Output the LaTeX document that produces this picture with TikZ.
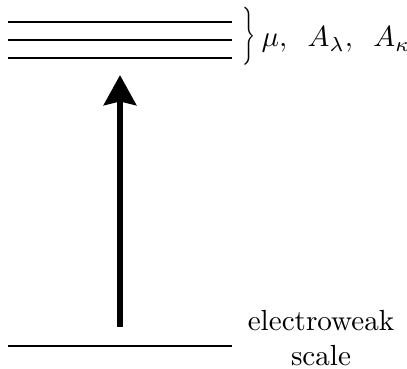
\documentclass[tikz,border=0pt]{standalone}
\usepackage{graphicx}
\usetikzlibrary{arrows.meta}
\begin{document}
\begin{tikzpicture}[x=0.3436pt,y=-0.3436pt,
  level/.style={line width=0.7pt},
  bigarrow/.style={line width=2.4pt,-{Stealth[length=10.3pt,width=11pt,inset=1.2pt]}},
  lbl/.style={inner sep=0pt,font=\normalsize}]
\useasboundingbox (0,0) rectangle (407,369);
\coordinate (t1a) at (8,22); \coordinate (t1b) at (232,22);
\coordinate (t2a) at (8,40); \coordinate (t2b) at (232,40);
\coordinate (t3a) at (8,58); \coordinate (t3b) at (232,58);
\coordinate (ewa) at (8,346); \coordinate (ewb) at (232,346);
\draw[level] (t1a) -- (t1b);
\draw[level] (t2a) -- (t2b);
\draw[level] (t3a) -- (t3b);
\draw[level] (ewa) -- (ewb);
\coordinate (low) at (120,327);
\coordinate (high) at (120,75);
\draw[bigarrow] (low) -- (high);
\node[lbl] (brace) at (249,36) {\resizebox*{4.5pt}{20pt}{$\Big\}$}};
\node[lbl,anchor=base west] (params) at (261,47)
  {$\mu,\hspace{5.4pt}A_\lambda,\hspace{5.4pt}A_\kappa$};
\node[lbl,anchor=base] (ew1) at (321,331) {electroweak};
\node[lbl,anchor=base] (ew2) at (321,366) {scale};
\end{tikzpicture}
\end{document}
